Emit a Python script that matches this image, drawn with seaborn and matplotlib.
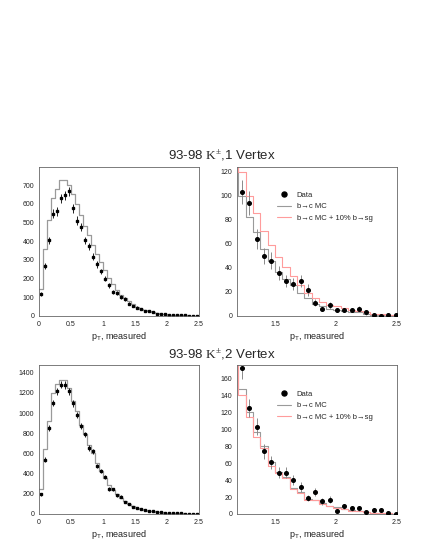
import numpy as np
import pandas as pd
import matplotlib
matplotlib.use("Agg")
import matplotlib.pyplot as plt
import seaborn as sns
from matplotlib.ticker import MultipleLocator, AutoMinorLocator
from matplotlib.lines import Line2D

# ---------------- data ----------------
# full-range panels: 40 bins from 0 to 2.5
full_range = (0.0, 2.5)
full_nbins = 40
# tail panels: bins of 0.06 starting at 1.14 (first bin lies left of the view)
tail_start = 1.14
tail_width = 0.06
tail_nbins = 23

titles = ["93-98 $\\mathrm{K}^{\\pm}$,1 Vertex", "93-98 $\\mathrm{K}^{\\pm}$,2 Vertex"]
xlabel = "p$_{\\mathsf{T}}$, measured"
legend_labels = ["Data", "b\u2192c MC", "b\u2192c MC + 10% b\u2192sg"]

v1_data = [120, 268, 404, 548, 560, 630, 645, 666, 576, 510, 474, 404, 373, 318, 276, 239,
           199, 165, 127, 124, 102, 90, 66, 54, 45, 36, 29, 25, 20, 13, 11, 9, 7, 5, 5, 4, 3, 2, 2, 1]
v1_err = [11, 16, 20, 23, 24, 25, 25, 26, 24, 23, 22, 20, 19, 18, 17, 15,
          14, 13, 11, 11, 10, 9, 8, 7, 7, 6, 5, 5, 4, 4, 3, 3, 3, 2, 2, 2, 2, 1, 1, 1]
v1_mc = [145, 360, 515, 632, 680, 725, 725, 700, 650, 600, 540, 480, 435, 380, 330, 290,
         245, 205, 170, 140, 115, 95, 78, 62, 50, 40, 32, 25, 20, 15, 12, 9, 7, 5, 4, 3, 3, 2, 2, 1]

v2_data = [195, 538, 852, 1099, 1218, 1281, 1278, 1218, 1096, 984, 872, 789, 654, 621, 475, 429,
           366, 248, 244, 185, 172, 122, 96, 73, 56, 53, 43, 33, 26, 20, 17, 13, 10, 8, 7, 6, 4, 3, 3, 2]
v2_err = [14, 23, 29, 33, 35, 36, 36, 35, 33, 31, 30, 28, 26, 25, 22, 21,
          19, 16, 16, 14, 13, 11, 10, 9, 7, 7, 7, 6, 5, 4, 4, 4, 3, 3, 3, 2, 2, 2, 2, 1]
v2_mc = [250, 640, 920, 1200, 1290, 1330, 1330, 1250, 1120, 1020, 880, 790, 680, 600, 510, 430,
         360, 290, 240, 195, 160, 130, 100, 80, 62, 50, 40, 32, 25, 20, 15, 12, 9, 7, 6, 5, 4, 3, 2, 2]

# tail panels (first value of MC arrays = bin left of the view)
t1_data = [103, 94, 64, 50, 46, 36, 29, 27, 29, 22, 11, 6, 9, 5, 5, 5, 6, 3, 1, 0, 1, 1]
t1_err = [10, 10, 8, 7, 7, 6, 5, 5, 5, 5, 3, 2, 3, 2, 2, 2, 2, 2, 1, 0, 1, 1]
t1_mc = [125, 100, 82, 70, 56, 46, 37, 31, 26, 19, 15, 10, 8, 6, 5, 4, 3, 3, 2, 1, 1, 1, 0.5]
t1_mcsg = [140, 120, 100, 86, 71, 59, 49, 41, 33, 26, 19, 15, 12, 9, 8, 7, 5, 4, 3, 2, 1.5, 1, 1]

t2_data = [172, 125, 103, 74, 61, 49, 49, 40, 32, 19, 26, 15, 17, 3, 9, 7, 7, 2, 5, 5, 1, 0]
t2_err = [13, 11, 10, 9, 8, 7, 7, 6, 6, 4, 5, 4, 4, 2, 3, 3, 3, 1, 2, 2, 1, 0]
t2_mc = [185, 148, 121, 97, 80, 61, 50, 44, 31, 26, 18, 16, 13, 10, 8, 6, 5, 3, 2, 1.5, 1, 1, 0.5]
t2_mcsg = [180, 140, 114, 91, 78, 57, 48, 42, 30, 25, 17, 16, 12, 10, 7, 6, 4, 3, 2, 1.5, 1, 1, 0.5]

# ---------------- style ----------------
sns.set_theme(style="white")
plt.rcParams["font.family"] = ["Liberation Sans", "DejaVu Sans"]
plt.rcParams["mathtext.fontset"] = "custom"
plt.rcParams["mathtext.rm"] = "Liberation Serif"
plt.rcParams["mathtext.sf"] = "Liberation Sans"
plt.rcParams["mathtext.it"] = "Liberation Sans:italic"

GRAY = "#9a9a9a"
PINK = "#ff9c9c"
SPINE = "#666666"

W, H = 428, 554
fig = plt.figure(figsize=(W / 100, H / 100), dpi=100)


def box(l, t, r, b):
    return [l / W, 1 - b / H, (r - l) / W, (b - t) / H]


full_edges = np.linspace(full_range[0], full_range[1], full_nbins + 1)
full_centers = 0.5 * (full_edges[:-1] + full_edges[1:])
tail_edges = tail_start + tail_width * np.arange(tail_nbins + 1)
tail_centers = 0.5 * (tail_edges[:-1] + tail_edges[1:])


def step_hist(ax, centers, edges, values, color, lw):
    df = pd.DataFrame({"x": centers, "w": np.asarray(values, dtype=float)})
    sns.histplot(data=df, x="x", weights="w", bins=list(edges), element="step", fill=False,
                 color=color, linewidth=lw, ax=ax)


def style_axes(ax, xlim, ylim, ymajor, xmajor, xminor_n):
    ax.set_xlim(*xlim)
    ax.set_ylim(*ylim)
    ax.yaxis.set_major_locator(MultipleLocator(ymajor))
    ax.yaxis.set_minor_locator(AutoMinorLocator(5))
    ax.xaxis.set_major_locator(MultipleLocator(xmajor))
    ax.xaxis.set_minor_locator(AutoMinorLocator(xminor_n))
    ax.xaxis.set_major_formatter(matplotlib.ticker.FuncFormatter(lambda v, p: f"{v:g}"))
    ax.tick_params(which="both", direction="in", top=False, right=False,
                   labelsize=5, pad=3.5, width=0.5, color=SPINE, labelcolor="#222222")
    ax.tick_params(which="major", length=3.2)
    ax.tick_params(which="minor", length=1.6)
    for s in ax.spines.values():
        s.set_color(SPINE)
        s.set_linewidth(0.6)
    ax.set_ylabel("")
    ax.set_xlabel(xlabel, fontsize=6.5, color="#222222")
    ax.xaxis.set_label_coords(0.5, -0.135)
    ax.xaxis.label.set_va("center")


def full_panel(rect, data, err, mc, ylim, ymajor):
    ax = fig.add_axes(rect)
    step_hist(ax, full_centers, full_edges, mc, GRAY, 0.9)
    ax.errorbar(full_centers, data, yerr=err, fmt="s", ms=1.7, color="black",
                ecolor="black", elinewidth=0.6, capsize=0)
    style_axes(ax, full_range, ylim, ymajor, 0.5, 5)
    return ax


def tail_panel(rect, data, err, mc, mcsg, ylim, legend_top):
    ax = fig.add_axes(rect)
    step_hist(ax, tail_centers, tail_edges, mc, GRAY, 0.8)
    step_hist(ax, tail_centers, tail_edges, mcsg, PINK, 0.8)
    ax.errorbar(tail_centers[1:], data, yerr=err, fmt="o", ms=2.6, color="black",
                ecolor="#8a8a8a", elinewidth=0.7, capsize=0, zorder=5)
    style_axes(ax, (1.19, 2.5), ylim, 20, 0.5, 7)
    handles = [Line2D([], [], marker="o", ls="none", color="black", ms=3.6),
               Line2D([], [], color=GRAY, lw=0.8),
               Line2D([], [], color=PINK, lw=0.8)]
    ax.legend(handles, legend_labels, loc="upper left", bbox_to_anchor=(0.25, legend_top),
              frameon=False, fontsize=5.5, borderaxespad=0, borderpad=0,
              handlelength=1.8, handletextpad=0.8, labelspacing=0.55)
    return ax


full_panel(box(39, 167, 199, 316), v1_data, v1_err, v1_mc, (0, 797), 100)
tail_panel(box(237, 167, 397, 316), t1_data, t1_err, t1_mc, t1_mcsg, (0, 124), 0.835)
full_panel(box(39, 365, 199, 514), v2_data, v2_err, v2_mc, (0, 1476), 200)
tail_panel(box(237, 365, 397, 514), t2_data, t2_err, t2_mc, t2_mcsg, (0, 176), 0.83)

fig.text(222 / W, 1 - 156 / H, titles[0], ha="center", va="center", fontsize=9.5)
fig.text(222 / W, 1 - 355 / H, titles[1], ha="center", va="center", fontsize=9.5)

fig.savefig("out.png", dpi=100, facecolor="white")
